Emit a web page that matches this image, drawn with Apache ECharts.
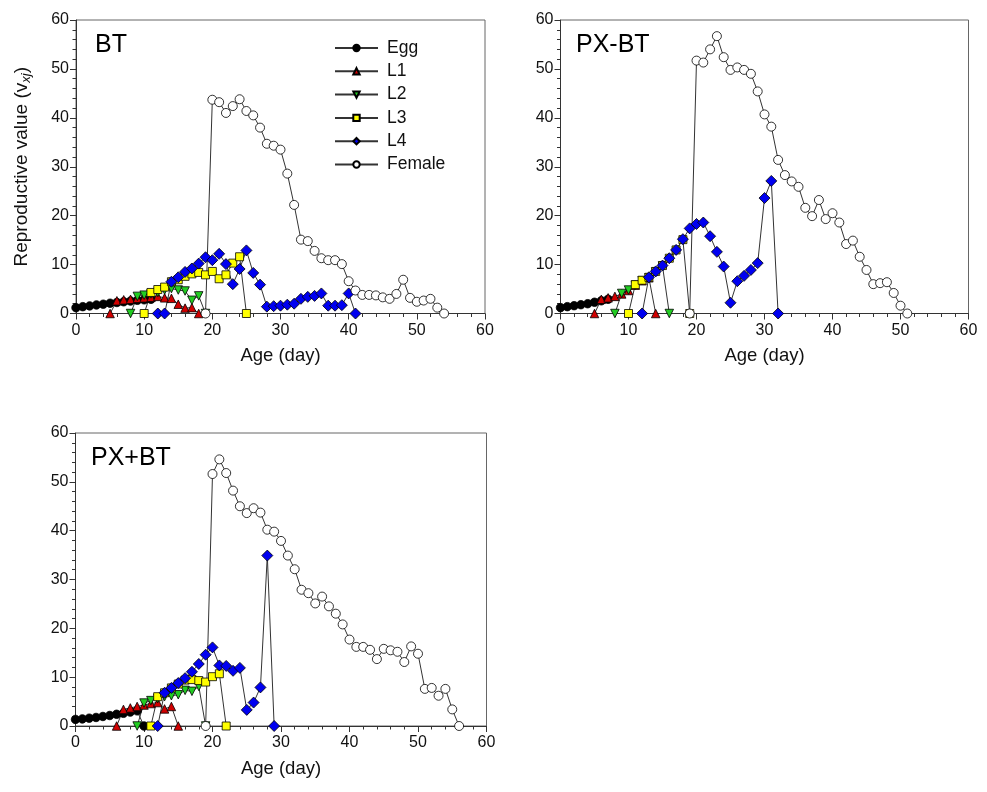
<!DOCTYPE html>
<html><head><meta charset="utf-8">
<script src="https://cdn.jsdelivr.net/npm/echarts@6/dist/echarts.min.js"></script>
<style>html,body{margin:0;padding:0;background:#fff}#c{width:987px;height:792px}</style>
</head><body><div id="c"></div>
<script>
// ---- data ----
const stageNames = ['Egg', 'L1', 'L2', 'L3', 'L4', 'Female'];
const panelTitles = ['BT', 'PX-BT', 'PX+BT'];

// first age (day) of each stage series, per panel
const btStart = [0, 5, 8, 10, 12, 19];
const btEgg = [1.2, 1.4, 1.55, 1.75, 1.9, 2.1, 2.25, 2.4, 2.55, 2.7, 2.8, 2.9];
const btL1 = [0, 2.6, 2.8, 2.9, 3.1, 3.2, 3.3, 3.5, 3.2, 3.1, 1.9, 1.1, 1.2, 0];
const btL2 = [0, 3.5, 3.75, 4.0, 4.3, 4.8, 5.1, 4.8, 4.6, 2.7, 3.6, 0];
const btL3 = [0, 4.3, 4.9, 5.4, 6.5, 6.9, 7.6, 8.1, 8.4, 7.9, 8.6, 7.1, 7.9, 10.3, 11.6, 0];
const btL4 = [0, 0, 6.5, 7.4, 8.5, 9.2, 10.2, 11.5, 10.9, 12.2, 10.1, 6.0, 9.1, 12.9, 8.3, 5.9, 1.4, 1.5, 1.6, 1.8, 2.0, 3.0, 3.4, 3.6, 4.1, 1.6, 1.6, 1.7, 4.1, 0];
const btFemale = [0, 43.7, 43.2, 41.0, 42.4, 43.8, 41.4, 40.5, 38.0, 34.7, 34.3, 33.5, 28.6, 22.2, 15.1, 14.8, 12.8, 11.3, 10.9, 10.9, 10.1, 6.6, 4.7, 3.8, 3.8, 3.7, 3.3, 3.0, 4.0, 6.9, 3.2, 2.4, 2.65, 3.0, 1.2, 0];

const pxbtStart = [0, 5, 8, 10, 12, 19];
const pxbtEgg = [1.2, 1.4, 1.6, 1.8, 2.0, 2.3, 2.6, 2.9];
const pxbtL1 = [0, 2.9, 3.2, 3.5, 4.0, 4.7, 5.8, 6.7, 7.3, 0];
const pxbtL2 = [0, 4.1, 4.8, 5.8, 6.7, 7.3, 8.5, 9.7, 0];
const pxbtL3 = [0, 5.9, 6.8, 7.4, 8.6, 9.8, 11.3, 13.0, 15.1, 0];
const pxbtL4 = [0, 7.4, 8.6, 9.8, 11.3, 13.0, 15.2, 17.4, 18.3, 18.6, 15.8, 12.6, 9.6, 2.2, 6.6, 7.7, 8.9, 10.3, 23.6, 27.1, 0];
const pxbtFemale = [0, 51.7, 51.3, 54.0, 56.7, 52.4, 49.8, 50.3, 49.8, 49.0, 45.4, 40.7, 38.2, 31.4, 28.3, 27.0, 25.9, 21.6, 19.9, 23.2, 19.3, 20.5, 18.6, 14.2, 14.9, 11.6, 8.9, 6.0, 6.2, 6.4, 4.2, 1.6, 0];

const pxpbtStart = [0, 6, 9, 11, 12, 19];
const pxpbtEgg = [1.35, 1.45, 1.6, 1.75, 1.95, 2.15, 2.4, 2.6, 2.85, 3.1, 0];
const pxpbtL1 = [0, 3.4, 3.7, 4.0, 4.3, 4.6, 4.8, 3.5, 4.0, 0];
const pxpbtL2 = [0, 4.7, 5.2, 5.6, 6.0, 6.2, 6.4, 7.3, 7.1, 8.1, 0];
const pxpbtL3 = [0, 6.0, 6.8, 7.8, 8.6, 9.4, 9.5, 9.3, 9.0, 10.1, 10.7, 0];
const pxpbtL4 = [0, 6.8, 7.8, 8.8, 9.8, 11.1, 12.7, 14.6, 16.1, 12.4, 12.3, 11.3, 11.9, 3.3, 4.8, 7.9, 34.9, 0];
const pxpbtFemale = [0, 51.6, 54.6, 51.8, 48.2, 45.0, 43.6, 44.6, 43.7, 40.2, 39.8, 37.9, 34.9, 32.1, 27.9, 27.2, 25.1, 26.5, 24.5, 23.0, 20.8, 17.7, 16.2, 16.2, 15.6, 13.7, 15.8, 15.5, 15.2, 13.1, 16.3, 14.8, 7.6, 7.8, 6.2, 7.6, 3.4, 0];

const xTickRange = [0, 60, 10];
const yTickRange = [0, 60, 10];

// ---- styling ----
const FONT = '"Liberation Sans", Arial, sans-serif';
const symbols = ['circle', 'triangle', 'triangle', 'rect', 'diamond', 'circle'];
const rotations = [0, 0, 180, 0, 0, 0];
const fills = ['#000000', '#d00000', '#22cc22', '#ffff00', '#0000f0', '#ffffff'];
const sizes = [8.5, 8.5, 8.5, 8, 11, 9];

const panelData = [
  [btStart, [btEgg, btL1, btL2, btL3, btL4, btFemale]],
  [pxbtStart, [pxbtEgg, pxbtL1, pxbtL2, pxbtL3, pxbtL4, pxbtFemale]],
  [pxpbtStart, [pxpbtEgg, pxpbtL1, pxpbtL2, pxpbtL3, pxpbtL4, pxpbtFemale]]
];

const grids = [
  {left: 76, top: 20, width: 409, height: 293.5},
  {left: 560.5, top: 20, width: 408, height: 293.5},
  {left: 75.5, top: 433, width: 411, height: 293}
].map(g => Object.assign({show: true, borderColor: '#666', borderWidth: 1, backgroundColor: 'transparent'}, g));

const axisCommon = {
  axisLine: {show: true, onZero: false, lineStyle: {color: '#333', width: 1}},
  axisTick: {show: true, inside: false, length: 6, lineStyle: {color: '#333'}},
  minorTick: {show: true, splitNumber: 5, length: 3.5, lineStyle: {color: '#333'}},
  splitLine: {show: false},
  axisLabel: {fontSize: 16, color: '#111', fontFamily: FONT}
};

const xAxes = grids.map((g, i) => Object.assign({}, axisCommon, {
  type: 'value', gridIndex: i, min: xTickRange[0], max: xTickRange[1], interval: xTickRange[2],
  name: 'Age (day)', nameLocation: 'middle', nameGap: 33,
  nameTextStyle: {fontSize: 18.5, color: '#111', fontFamily: FONT},
  axisLabel: Object.assign({}, axisCommon.axisLabel, {margin: 9})
}));

const yAxes = grids.map((g, i) => Object.assign({}, axisCommon, {
  type: 'value', gridIndex: i, min: yTickRange[0], max: yTickRange[1], interval: yTickRange[2],
  axisLabel: Object.assign({}, axisCommon.axisLabel, {margin: 7})
}));
yAxes[0].name = '{a|Reproductive value (}{v|v}{s|xj}{a|)}';
yAxes[0].nameLocation = 'middle';
yAxes[0].nameGap = 43;
yAxes[0].nameRotate = 90;
yAxes[0].nameTextStyle = {
  fontFamily: FONT, color: '#111',
  rich: {
    a: {fontSize: 19, fontFamily: FONT, color: '#111', lineHeight: 22},
    v: {fontSize: 19, fontFamily: FONT, color: '#111', lineHeight: 22},
    s: {fontSize: 13, fontFamily: FONT, color: '#111', fontStyle: 'italic', lineHeight: 14, verticalAlign: 'bottom'}
  }
};

const series = [];
panelData.forEach(([starts, arrs], p) => {
  arrs.forEach((vals, k) => {
    series.push({
      type: 'line', name: stageNames[k], xAxisIndex: p, yAxisIndex: p,
      data: vals.map((v, i) => [starts[k] + i, v]),
      symbol: symbols[k], symbolRotate: rotations[k], symbolSize: sizes[k],
      showSymbol: true, showAllSymbol: true, clip: false,
      itemStyle: {color: fills[k], borderColor: '#000', borderWidth: 0.8},
      lineStyle: {color: '#333', width: 1},
      emphasis: {disabled: true}
    });
  });
});

const option = {
  animation: false,
  backgroundColor: '#fff',
  title: [
    {text: panelTitles[0], left: 95, top: 33},
    {text: panelTitles[1], left: 576, top: 33},
    {text: panelTitles[2], left: 91, top: 446}
  ].map(t => Object.assign(t, {padding: 0, textStyle: {fontSize: 25, fontWeight: 'normal', color: '#000', fontFamily: FONT}})),
  legend: {
    data: stageNames, orient: 'vertical', left: 334, top: 39, padding: 0,
    itemWidth: 43, itemHeight: 8, itemGap: 5.3, selectedMode: false,
    textStyle: {fontSize: 17.5, color: '#111', fontFamily: FONT, padding: [0, 0, 0, 4]}
  },
  grid: grids, xAxis: xAxes, yAxis: yAxes, series: series
};

const chart = echarts.init(document.getElementById('c'), null, {renderer: 'canvas'});
chart.setOption(option);
</script>
</body></html>
